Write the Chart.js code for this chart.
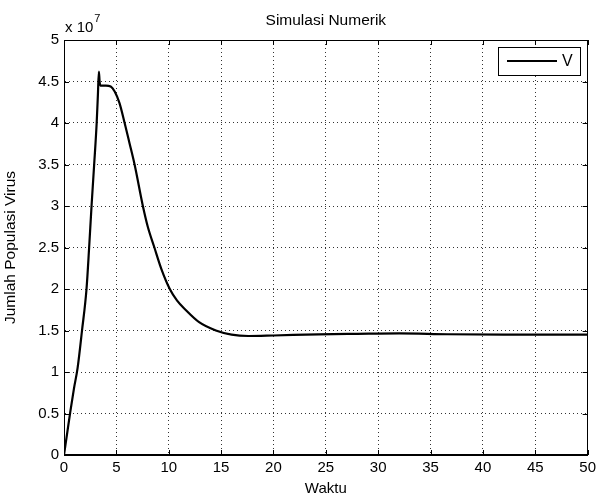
<!DOCTYPE html>
<html>
<head>
<meta charset="utf-8">
<script src="https://cdn.jsdelivr.net/npm/chart.js@4"></script>
<style>
html,body{margin:0;padding:0;background:#fff;}
#wrap{width:600px;height:498px;position:relative;}
</style>
</head>
<body>
<div id="wrap"><canvas id="c" width="600" height="498"></canvas></div>
<script>
// Data (V in units of 1e7)
const waktu = [0, 0.3, 0.6, 0.95, 1.3, 1.72, 2.15, 2.4, 2.63, 2.88, 3.12, 3.24, 3.33, 3.4, 3.47, 3.57, 4.0, 4.46, 4.84, 5.3, 5.79, 6.25, 6.74, 7.53, 8.0, 8.63, 9.3, 10.1, 10.8, 11.6, 12.9, 14.5, 16.0, 17.6, 20.0, 24.3, 28.0, 32.0, 36.6, 42.0, 50.0];
const populasiV = [0, 0.26, 0.52, 0.8, 1.05, 1.5, 2.0, 2.5, 3.0, 3.5, 4.0, 4.35, 4.62, 4.5, 4.45, 4.45, 4.45, 4.44, 4.38, 4.24, 4.0, 3.76, 3.5, 3.0, 2.75, 2.5, 2.24, 2.0, 1.86, 1.75, 1.6, 1.5, 1.45, 1.434, 1.44, 1.454, 1.46, 1.465, 1.455, 1.45, 1.45];
const xTicks = [0, 5, 10, 15, 20, 25, 30, 35, 40, 45, 50];
const yTicks = [0, 0.5, 1, 1.5, 2, 2.5, 3, 3.5, 4, 4.5, 5];
const seriesLabel = 'V';
const titleText = 'Simulasi Numerik';
const xLabel = 'Waktu';
const yLabel = 'Jumlah Populasi Virus';
const scaleNote = 'x 10';
const scaleExp = '7';

const FONT = '"Liberation Sans", Arial, sans-serif';

const points = waktu.map((t, i) => ({x: t, y: populasiV[i]}));

const decor = {
  id: 'decor',
  beforeDraw(chart) {
    const ctx = chart.ctx;
    ctx.save();
    ctx.fillStyle = '#fff';
    ctx.fillRect(0, 0, chart.width, chart.height);
    ctx.restore();
  },
  afterDraw(chart) {
    const ctx = chart.ctx;
    const a = chart.chartArea;
    const xs = chart.scales.x, ys = chart.scales.y;
    ctx.save();
    ctx.strokeStyle = '#000';
    ctx.lineWidth = 1;
    ctx.beginPath();
    xTicks.forEach(v => {
      const px = Math.round(xs.getPixelForValue(v)) + 0.5;
      ctx.moveTo(px, a.bottom); ctx.lineTo(px, a.bottom - 5);
      ctx.moveTo(px, a.top); ctx.lineTo(px, a.top + 5);
    });
    yTicks.forEach(v => {
      const py = Math.round(ys.getPixelForValue(v)) + 0.5;
      ctx.moveTo(a.left, py); ctx.lineTo(a.left + 5, py);
      ctx.moveTo(a.right, py); ctx.lineTo(a.right - 5, py);
    });
    ctx.stroke();
    ctx.strokeRect(Math.round(a.left) + 0.5, Math.round(a.top) + 0.5, Math.round(a.right - a.left) - 1, Math.round(a.bottom - a.top) - 1);
    ctx.fillStyle = '#000';
    ctx.font = '15.5px ' + FONT;
    ctx.textAlign = 'center';
    ctx.textBaseline = 'middle';
    ctx.fillText(titleText, (a.left + a.right) / 2, 21);
    ctx.font = '15px ' + FONT;
    ctx.fillText(xLabel, (a.left + a.right) / 2, 489);
    ctx.save();
    ctx.translate(11, (a.top + a.bottom) / 2);
    ctx.rotate(-Math.PI / 2);
    ctx.font = '15.5px ' + FONT;
    ctx.fillText(yLabel, 0, 0);
    ctx.restore();
    ctx.textAlign = 'left';
    ctx.textBaseline = 'alphabetic';
    ctx.font = '15px ' + FONT;
    ctx.fillText(scaleNote, a.left + 1, 32);
    const w = ctx.measureText(scaleNote).width;
    ctx.font = '11px ' + FONT;
    ctx.fillText(scaleExp, a.left + 1 + w + 1, 22);
    // legend
    const lx = 498, ly = 47, lw = 82, lh = 28;
    ctx.fillStyle = '#fff';
    ctx.fillRect(lx, ly, lw, lh);
    ctx.strokeStyle = '#000';
    ctx.lineWidth = 1;
    ctx.strokeRect(lx + 0.5, ly + 0.5, lw, lh);
    ctx.lineWidth = 2;
    ctx.beginPath();
    ctx.moveTo(507, 61); ctx.lineTo(557, 61);
    ctx.stroke();
    ctx.fillStyle = '#000';
    ctx.font = '16px ' + FONT;
    ctx.textBaseline = 'middle';
    ctx.fillText(seriesLabel, 562, 62);
    ctx.restore();
  }
};

new Chart(document.getElementById('c'), {
  type: 'line',
  data: {
    datasets: [{
      label: seriesLabel,
      data: points,
      borderColor: '#000',
      borderWidth: 2.2,
      pointRadius: 0,
      cubicInterpolationMode: 'monotone',
      fill: false
    }]
  },
  options: {
    responsive: false,
    animation: false,
    devicePixelRatio: 1,
    layout: {padding: {left: 0, right: 9, top: 40, bottom: 0}},
    plugins: {legend: {display: false}, tooltip: {enabled: false}, title: {display: false}},
    scales: {
      x: {
        type: 'linear', min: 0, max: 50,
        afterBuildTicks: s => { s.ticks = xTicks.map(v => ({value: v})); },
        afterFit: s => { s.height = 43; },
        grid: {color: '#333', lineWidth: 1, drawTicks: false},
        border: {display: true, color: '#000', width: 1, dash: [1, 3]},
        ticks: {color: '#000', padding: 4, maxRotation: 0, font: {family: FONT, size: 15}}
      },
      y: {
        type: 'linear', min: 0, max: 5,
        afterBuildTicks: s => { s.ticks = yTicks.map(v => ({value: v})); },
        afterFit: s => { s.width = 64; },
        grid: {color: '#333', lineWidth: 1, drawTicks: false},
        border: {display: true, color: '#000', width: 1, dash: [1, 3]},
        ticks: {color: '#000', padding: 5, font: {family: FONT, size: 15}, callback: v => String(v)}
      }
    }
  },
  plugins: [decor]
});
</script>
</body>
</html>
